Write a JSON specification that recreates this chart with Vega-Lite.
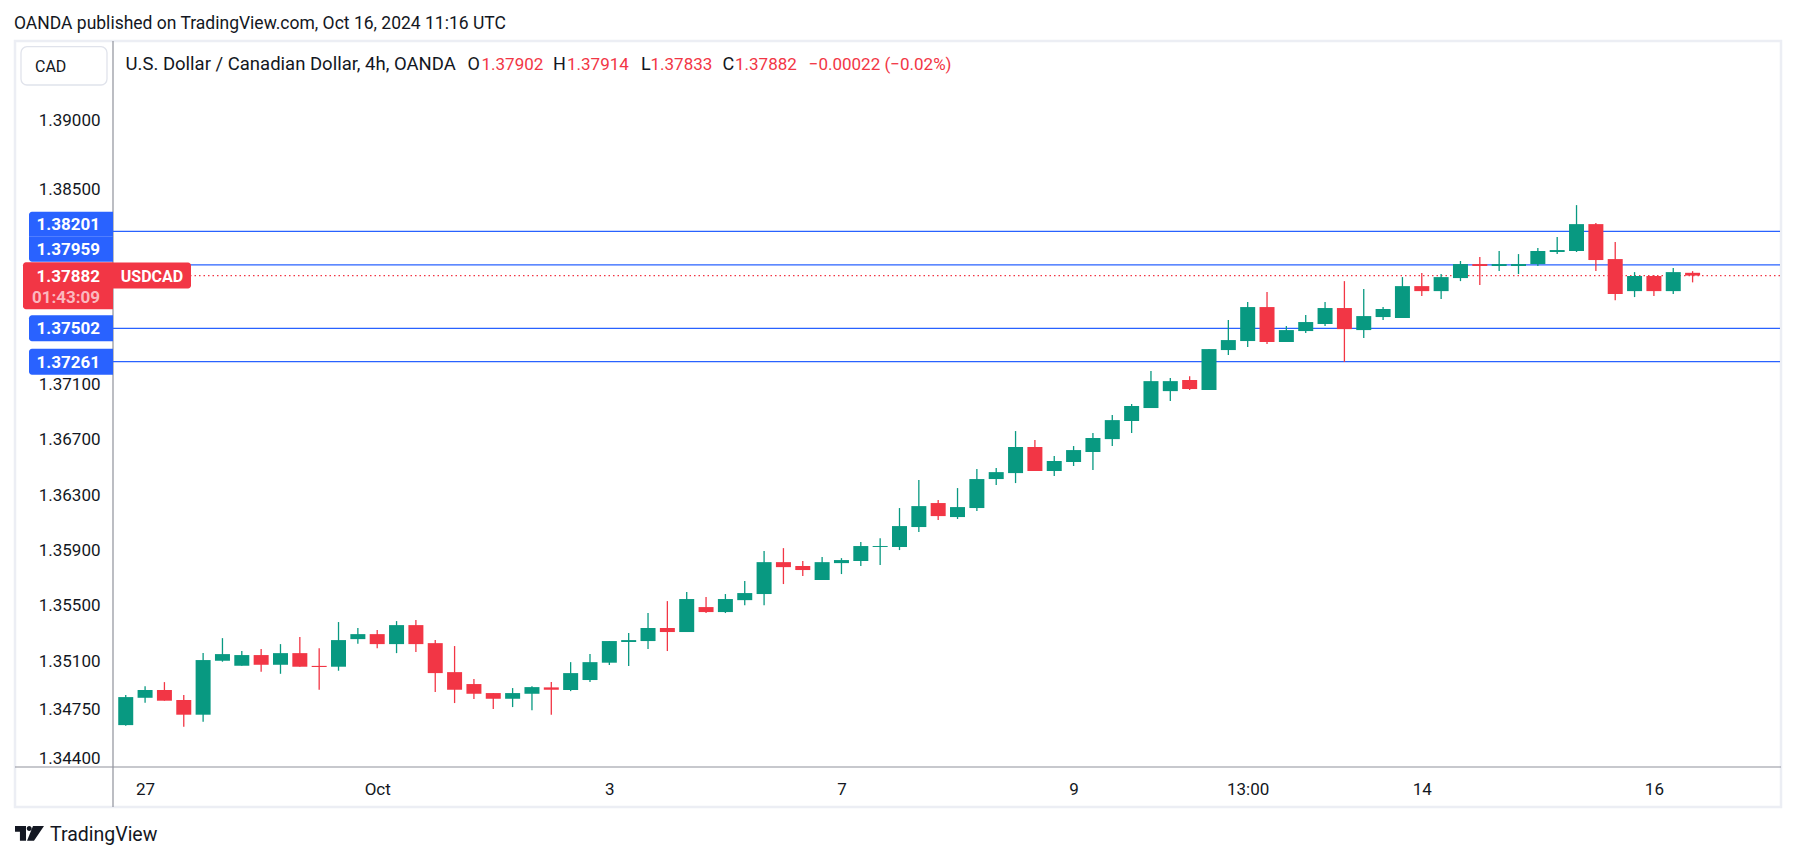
{
  "$schema": "https://vega.github.io/schema/vega-lite/v6.json",
  "width": 1667,
  "height": 725,
  "autosize": {"type": "none"},
  "padding": {"left": 113, "top": 42, "right": 13, "bottom": 94},
  "background": "white",
  "config": {
    "view": {"stroke": null},
    "font": "Roboto",
    "text": {"font": "Roboto"}
  },
  "datasets": {
    "candles": [
      {"i":0,"t":"2024-09-26 21:00","o":1.34641,"h":1.34858,"l":1.34636,"c":1.34843},
      {"i":1,"t":"2024-09-27 01:00","o":1.34838,"h":1.34922,"l":1.34802,"c":1.34894},
      {"i":2,"t":"2024-09-27 05:00","o":1.34894,"h":1.34951,"l":1.34817,"c":1.34817},
      {"i":3,"t":"2024-09-27 09:00","o":1.34822,"h":1.34858,"l":1.34629,"c":1.34716},
      {"i":4,"t":"2024-09-27 13:00","o":1.34716,"h":1.35160,"l":1.34665,"c":1.35110},
      {"i":5,"t":"2024-09-27 17:00","o":1.35105,"h":1.35268,"l":1.35098,"c":1.35153},
      {"i":6,"t":"2024-09-29 21:00","o":1.35069,"h":1.35175,"l":1.35069,"c":1.35146},
      {"i":7,"t":"2024-09-30 01:00","o":1.35146,"h":1.35189,"l":1.35026,"c":1.35076},
      {"i":8,"t":"2024-09-30 05:00","o":1.35076,"h":1.35225,"l":1.35011,"c":1.35160},
      {"i":9,"t":"2024-09-30 09:00","o":1.35160,"h":1.35276,"l":1.35062,"c":1.35062},
      {"i":10,"t":"2024-09-30 13:00","o":1.35068,"h":1.35196,"l":1.34896,"c":1.35060},
      {"i":11,"t":"2024-09-30 17:00","o":1.35062,"h":1.35384,"l":1.35033,"c":1.35254},
      {"i":12,"t":"2024-09-30 21:00","o":1.35261,"h":1.35341,"l":1.35228,"c":1.35297},
      {"i":13,"t":"2024-10-01 01:00","o":1.35297,"h":1.35326,"l":1.35196,"c":1.35225},
      {"i":14,"t":"2024-10-01 05:00","o":1.35225,"h":1.35391,"l":1.35160,"c":1.35362},
      {"i":15,"t":"2024-10-01 09:00","o":1.35362,"h":1.35398,"l":1.35168,"c":1.35225},
      {"i":16,"t":"2024-10-01 13:00","o":1.35232,"h":1.35254,"l":1.34879,"c":1.35016},
      {"i":17,"t":"2024-10-01 17:00","o":1.35023,"h":1.35211,"l":1.34800,"c":1.34896},
      {"i":18,"t":"2024-10-01 21:00","o":1.34937,"h":1.34973,"l":1.34829,"c":1.34867},
      {"i":19,"t":"2024-10-02 01:00","o":1.34872,"h":1.34872,"l":1.34757,"c":1.34831},
      {"i":20,"t":"2024-10-02 05:00","o":1.34831,"h":1.34908,"l":1.34771,"c":1.34872},
      {"i":21,"t":"2024-10-02 09:00","o":1.34867,"h":1.34922,"l":1.34749,"c":1.34915},
      {"i":22,"t":"2024-10-02 13:00","o":1.34913,"h":1.34951,"l":1.34716,"c":1.34896},
      {"i":23,"t":"2024-10-02 17:00","o":1.34894,"h":1.35095,"l":1.34886,"c":1.35016},
      {"i":24,"t":"2024-10-02 21:00","o":1.34966,"h":1.35153,"l":1.34951,"c":1.35095},
      {"i":25,"t":"2024-10-03 01:00","o":1.35091,"h":1.35247,"l":1.35074,"c":1.35247},
      {"i":26,"t":"2024-10-03 05:00","o":1.35240,"h":1.35305,"l":1.35067,"c":1.35254},
      {"i":27,"t":"2024-10-03 09:00","o":1.35247,"h":1.35449,"l":1.35189,"c":1.35341},
      {"i":28,"t":"2024-10-03 13:00","o":1.35341,"h":1.35535,"l":1.35175,"c":1.35312},
      {"i":29,"t":"2024-10-03 17:00","o":1.35312,"h":1.35600,"l":1.35312,"c":1.35550},
      {"i":30,"t":"2024-10-03 21:00","o":1.35492,"h":1.35564,"l":1.35449,"c":1.35456},
      {"i":31,"t":"2024-10-04 01:00","o":1.35456,"h":1.35586,"l":1.35449,"c":1.35550},
      {"i":32,"t":"2024-10-04 05:00","o":1.35542,"h":1.35680,"l":1.35506,"c":1.35593},
      {"i":33,"t":"2024-10-04 09:00","o":1.35586,"h":1.35896,"l":1.35506,"c":1.35816},
      {"i":34,"t":"2024-10-04 13:00","o":1.35816,"h":1.35917,"l":1.35658,"c":1.35780},
      {"i":35,"t":"2024-10-04 17:00","o":1.35788,"h":1.35824,"l":1.35716,"c":1.35759},
      {"i":36,"t":"2024-10-06 21:00","o":1.35687,"h":1.35853,"l":1.35687,"c":1.35816},
      {"i":37,"t":"2024-10-07 01:00","o":1.35809,"h":1.35845,"l":1.35730,"c":1.35831},
      {"i":38,"t":"2024-10-07 05:00","o":1.35824,"h":1.35961,"l":1.35788,"c":1.35932},
      {"i":39,"t":"2024-10-07 09:00","o":1.35925,"h":1.35989,"l":1.35795,"c":1.35932},
      {"i":40,"t":"2024-10-07 13:00","o":1.35925,"h":1.36206,"l":1.35903,"c":1.36076},
      {"i":41,"t":"2024-10-07 17:00","o":1.36069,"h":1.36408,"l":1.36033,"c":1.36220},
      {"i":42,"t":"2024-10-07 21:00","o":1.36242,"h":1.36264,"l":1.36119,"c":1.36148},
      {"i":43,"t":"2024-10-08 01:00","o":1.36141,"h":1.36350,"l":1.36127,"c":1.36213},
      {"i":44,"t":"2024-10-08 05:00","o":1.36206,"h":1.36487,"l":1.36184,"c":1.36415},
      {"i":45,"t":"2024-10-08 09:00","o":1.36415,"h":1.36494,"l":1.36372,"c":1.36465},
      {"i":46,"t":"2024-10-08 13:00","o":1.36458,"h":1.36761,"l":1.36386,"c":1.36646},
      {"i":47,"t":"2024-10-08 17:00","o":1.36646,"h":1.36696,"l":1.36473,"c":1.36473},
      {"i":48,"t":"2024-10-08 21:00","o":1.36473,"h":1.36581,"l":1.36437,"c":1.36545},
      {"i":49,"t":"2024-10-09 01:00","o":1.36538,"h":1.36653,"l":1.36509,"c":1.36624},
      {"i":50,"t":"2024-10-09 05:00","o":1.36610,"h":1.36747,"l":1.36480,"c":1.36711},
      {"i":51,"t":"2024-10-09 09:00","o":1.36703,"h":1.36876,"l":1.36653,"c":1.36840},
      {"i":52,"t":"2024-10-09 13:00","o":1.36833,"h":1.36956,"l":1.36747,"c":1.36941},
      {"i":53,"t":"2024-10-09 17:00","o":1.36927,"h":1.37194,"l":1.36927,"c":1.37121},
      {"i":54,"t":"2024-10-09 21:00","o":1.37049,"h":1.37143,"l":1.36977,"c":1.37121},
      {"i":55,"t":"2024-10-10 01:00","o":1.37129,"h":1.37157,"l":1.37057,"c":1.37064},
      {"i":56,"t":"2024-10-10 05:00","o":1.37057,"h":1.37352,"l":1.37057,"c":1.37352},
      {"i":57,"t":"2024-10-10 09:00","o":1.37345,"h":1.37561,"l":1.37309,"c":1.37417},
      {"i":58,"t":"2024-10-10 13:00","o":1.37410,"h":1.37691,"l":1.37367,"c":1.37655},
      {"i":59,"t":"2024-10-10 17:00","o":1.37655,"h":1.37763,"l":1.37388,"c":1.37403},
      {"i":60,"t":"2024-10-10 21:00","o":1.37403,"h":1.37518,"l":1.37403,"c":1.37489},
      {"i":61,"t":"2024-10-11 01:00","o":1.37482,"h":1.37597,"l":1.37468,"c":1.37547},
      {"i":62,"t":"2024-10-11 05:00","o":1.37533,"h":1.37691,"l":1.37518,"c":1.37648},
      {"i":63,"t":"2024-10-11 09:00","o":1.37648,"h":1.37842,"l":1.37259,"c":1.37496},
      {"i":64,"t":"2024-10-11 13:00","o":1.37489,"h":1.37785,"l":1.37432,"c":1.37590},
      {"i":65,"t":"2024-10-11 17:00","o":1.37583,"h":1.37655,"l":1.37561,"c":1.37641},
      {"i":66,"t":"2024-10-13 21:00","o":1.37576,"h":1.37871,"l":1.37576,"c":1.37806},
      {"i":67,"t":"2024-10-14 01:00","o":1.37806,"h":1.37900,"l":1.37734,"c":1.37770},
      {"i":68,"t":"2024-10-14 05:00","o":1.37770,"h":1.37893,"l":1.37713,"c":1.37871},
      {"i":69,"t":"2024-10-14 09:00","o":1.37864,"h":1.37987,"l":1.37842,"c":1.37965},
      {"i":70,"t":"2024-10-14 13:00","o":1.37965,"h":1.38016,"l":1.37814,"c":1.37951},
      {"i":71,"t":"2024-10-14 17:00","o":1.37951,"h":1.38059,"l":1.37915,"c":1.37965},
      {"i":72,"t":"2024-10-14 21:00","o":1.37951,"h":1.38037,"l":1.37893,"c":1.37965},
      {"i":73,"t":"2024-10-15 01:00","o":1.37965,"h":1.38080,"l":1.37951,"c":1.38059},
      {"i":74,"t":"2024-10-15 05:00","o":1.38052,"h":1.38160,"l":1.38037,"c":1.38066},
      {"i":75,"t":"2024-10-15 09:00","o":1.38059,"h":1.38390,"l":1.38052,"c":1.38253},
      {"i":76,"t":"2024-10-15 13:00","o":1.38253,"h":1.38261,"l":1.37915,"c":1.37994},
      {"i":77,"t":"2024-10-15 17:00","o":1.38001,"h":1.38124,"l":1.37705,"c":1.37749},
      {"i":78,"t":"2024-10-15 21:00","o":1.37770,"h":1.37907,"l":1.37727,"c":1.37879},
      {"i":79,"t":"2024-10-16 01:00","o":1.37879,"h":1.37886,"l":1.37734,"c":1.37770},
      {"i":80,"t":"2024-10-16 05:00","o":1.37770,"h":1.37936,"l":1.37749,"c":1.37907},
      {"i":81,"t":"2024-10-16 09:00","o":1.37902,"h":1.37914,"l":1.37833,"c":1.37882}
    ],
    "levels": [
      {"price": 1.38201},
      {"price": 1.37959},
      {"price": 1.37502},
      {"price": 1.37261}
    ],
    "last": [
      {"price": 1.37882, "countdown": "01:43:09", "symbol": "USDCAD"}
    ]
  },
  "layer": [
    {
      "data": {"values": [{}]},
      "mark": {"type": "rect", "fill": null, "stroke": "#eceef4", "strokeWidth": 2.5, "x": -98, "x2": 1668, "y": -1, "y2": 765},
      "encoding": {}
    },
    {
      "data": {"values": [{}]},
      "mark": {"type": "rule", "stroke": "#8f929b", "strokeWidth": 1.2},
      "encoding": {"x": {"value": 0}, "y": {"value": -1}, "y2": {"value": 765}}
    },
    {
      "data": {"values": [{}]},
      "mark": {"type": "rule", "stroke": "#8f929b", "strokeWidth": 1.2},
      "encoding": {"x": {"value": -98}, "x2": {"value": 1668}, "y": {"value": 725}}
    },
    {
      "data": {"name": "levels"},
      "mark": {"type": "rule", "stroke": "#2962FF", "strokeWidth": 1.3},
      "encoding": {
        "y": {"field": "price", "type": "quantitative", "title": null, "scale": {"domain": [1.34339, 1.39566], "nice": false, "zero": false}}
      }
    },
    {
      "data": {"name": "last"},
      "mark": {"type": "rule", "stroke": "#F23645", "strokeWidth": 1.3, "strokeDash": [1.5, 3]},
      "encoding": {
        "y": {"field": "price", "type": "quantitative", "title": null, "scale": {"domain": [1.34339, 1.39566], "nice": false, "zero": false}}
      }
    },
    {
      "data": {"name": "candles"},
      "mark": {"type": "rule", "strokeWidth": 1.3},
      "encoding": {
        "x": {"field": "i", "type": "quantitative", "title": null, "scale": {"domain": [-0.4, 85.26], "nice": false, "zero": false},
          "axis": {"values": [1, 13, 25, 37, 49, 58, 67, 79], "title": null, "domain": false, "ticks": false, "tickSize": 0, "grid": false,
            "labelExpr": "datum.value == 1 ? '27' : datum.value == 13 ? 'Oct' : datum.value == 25 ? '3' : datum.value == 37 ? '7' : datum.value == 49 ? '9' : datum.value == 58 ? '13:00' : datum.value == 67 ? '14' : '16'",
            "labelFont": "Roboto", "labelFontSize": 17, "labelColor": "#131722", "labelPadding": 27, "labelBaseline": "alphabetic", "labelAlign": "center", "labelFlush": false, "labelOverlap": false}},
        "y": {"field": "l", "type": "quantitative", "title": null, "scale": {"domain": [1.34339, 1.39566], "nice": false, "zero": false},
          "axis": {"values": [1.344, 1.3475, 1.351, 1.355, 1.359, 1.363, 1.367, 1.371, 1.385, 1.39], "format": ".5f", "title": null, "domain": false, "ticks": false, "tickSize": 0, "grid": false,
            "labelFont": "Roboto", "labelFontSize": 17, "labelColor": "#131722", "labelPadding": 13, "labelBaseline": "middle", "labelAlign": "right", "labelFlush": false, "labelOverlap": false}},
        "y2": {"field": "h"},
        "color": {"condition": {"test": "datum.c < datum.o", "value": "#F23645"}, "value": "#089981"}
      }
    },
    {
      "data": {"name": "candles"},
      "mark": {"type": "bar", "width": 15},
      "encoding": {
        "x": {"field": "i", "type": "quantitative", "title": null, "scale": {"domain": [-0.4, 85.26], "nice": false, "zero": false}},
        "y": {"field": "o", "type": "quantitative", "title": null, "scale": {"domain": [1.34339, 1.39566], "nice": false, "zero": false}},
        "y2": {"field": "c"},
        "color": {"condition": {"test": "datum.c < datum.o", "value": "#F23645"}, "value": "#089981"}
      }
    },
    {
      "data": {"name": "levels"},
      "transform": [{"filter": "datum.price == 1.38201"}],
      "mark": {"type": "rect", "fill": "#2962FF", "yOffset": -19.5, "y2Offset": 5.5, "cornerRadiusTopLeft": 3},
      "encoding": {
        "x": {"value": -84}, "x2": {"value": 0},
        "y": {"field": "price", "type": "quantitative", "title": null, "scale": {"domain": [1.34339, 1.39566], "nice": false, "zero": false}},
        "y2": {"field": "price"}
      }
    },
    {
      "data": {"name": "levels"},
      "transform": [{"filter": "datum.price == 1.37959"}],
      "mark": {"type": "rect", "fill": "#2962FF", "yOffset": -28.2, "y2Offset": -3.2, "cornerRadiusBottomLeft": 3},
      "encoding": {
        "x": {"value": -84}, "x2": {"value": 0},
        "y": {"field": "price", "type": "quantitative", "title": null, "scale": {"domain": [1.34339, 1.39566], "nice": false, "zero": false}},
        "y2": {"field": "price"}
      }
    },
    {
      "data": {"name": "levels"},
      "transform": [{"filter": "datum.price < 1.376"}],
      "mark": {"type": "rect", "fill": "#2962FF", "yOffset": -13, "y2Offset": 13, "cornerRadiusTopLeft": 3, "cornerRadiusBottomLeft": 3},
      "encoding": {
        "x": {"value": -84}, "x2": {"value": 0},
        "y": {"field": "price", "type": "quantitative", "title": null, "scale": {"domain": [1.34339, 1.39566], "nice": false, "zero": false}},
        "y2": {"field": "price"}
      }
    },
    {
      "data": {"name": "levels"},
      "transform": [{"filter": "datum.price == 1.38201"}],
      "mark": {"type": "text", "align": "right", "baseline": "middle", "dy": 1, "yOffset": -7, "font": "Roboto", "fontWeight": "bold", "fontSize": 17, "color": "white"},
      "encoding": {
        "x": {"value": -13},
        "y": {"field": "price", "type": "quantitative", "title": null, "scale": {"domain": [1.34339, 1.39566], "nice": false, "zero": false}},
        "text": {"field": "price", "type": "quantitative", "format": ".5f"}
      }
    },
    {
      "data": {"name": "levels"},
      "transform": [{"filter": "datum.price == 1.37959"}],
      "mark": {"type": "text", "align": "right", "baseline": "middle", "dy": 1, "yOffset": -15.7, "font": "Roboto", "fontWeight": "bold", "fontSize": 17, "color": "white"},
      "encoding": {
        "x": {"value": -13},
        "y": {"field": "price", "type": "quantitative", "title": null, "scale": {"domain": [1.34339, 1.39566], "nice": false, "zero": false}},
        "text": {"field": "price", "type": "quantitative", "format": ".5f"}
      }
    },
    {
      "data": {"name": "levels"},
      "transform": [{"filter": "datum.price < 1.376"}],
      "mark": {"type": "text", "align": "right", "baseline": "middle", "dy": 1, "font": "Roboto", "fontWeight": "bold", "fontSize": 17, "color": "white"},
      "encoding": {
        "x": {"value": -13},
        "y": {"field": "price", "type": "quantitative", "title": null, "scale": {"domain": [1.34339, 1.39566], "nice": false, "zero": false}},
        "text": {"field": "price", "type": "quantitative", "format": ".5f"}
      }
    },
    {
      "data": {"name": "last"},
      "mark": {"type": "rect", "fill": "#F23645", "yOffset": -13.3, "y2Offset": 33.7, "cornerRadiusTopLeft": 3, "cornerRadiusBottomLeft": 3},
      "encoding": {
        "x": {"value": -90}, "x2": {"value": 0},
        "y": {"field": "price", "type": "quantitative", "title": null, "scale": {"domain": [1.34339, 1.39566], "nice": false, "zero": false}},
        "y2": {"field": "price"}
      }
    },
    {
      "data": {"name": "last"},
      "mark": {"type": "rect", "fill": "#F23645", "yOffset": -13, "y2Offset": 13, "cornerRadiusTopRight": 3, "cornerRadiusBottomRight": 3},
      "encoding": {
        "x": {"value": 0}, "x2": {"value": 78},
        "y": {"field": "price", "type": "quantitative", "title": null, "scale": {"domain": [1.34339, 1.39566], "nice": false, "zero": false}},
        "y2": {"field": "price"}
      }
    },
    {
      "data": {"name": "last"},
      "mark": {"type": "text", "align": "right", "baseline": "middle", "dy": 1, "font": "Roboto", "fontWeight": "bold", "fontSize": 17, "color": "white"},
      "encoding": {
        "x": {"value": -13},
        "y": {"field": "price", "type": "quantitative", "title": null, "scale": {"domain": [1.34339, 1.39566], "nice": false, "zero": false}},
        "text": {"field": "price", "type": "quantitative", "format": ".5f"}
      }
    },
    {
      "data": {"name": "last"},
      "mark": {"type": "text", "align": "right", "baseline": "middle", "dy": 1, "yOffset": 21, "font": "Roboto", "fontWeight": "bold", "fontSize": 17, "color": "#fbb8bf"},
      "encoding": {
        "x": {"value": -13},
        "y": {"field": "price", "type": "quantitative", "title": null, "scale": {"domain": [1.34339, 1.39566], "nice": false, "zero": false}},
        "text": {"field": "countdown"}
      }
    },
    {
      "data": {"name": "last"},
      "mark": {"type": "text", "align": "center", "baseline": "middle", "dy": 1, "font": "Roboto", "fontWeight": "bold", "fontSize": 16, "color": "white"},
      "encoding": {
        "x": {"value": 39},
        "y": {"field": "price", "type": "quantitative", "title": null, "scale": {"domain": [1.34339, 1.39566], "nice": false, "zero": false}},
        "text": {"field": "symbol"}
      }
    },
    {
      "data": {"values": [{}]},
      "mark": {"type": "rect", "fill": "white", "stroke": "#e0e3eb", "strokeWidth": 1.3, "cornerRadius": 6, "x": -92, "x2": -6, "y": 4.7, "y2": 43},
      "encoding": {}
    },
    {
      "data": {"values": [{}]},
      "mark": {"type": "text", "text": "CAD", "x": -78, "y": 29.7, "align": "left", "baseline": "alphabetic", "font": "Roboto", "fontSize": 16, "color": "#131722"}
    },
    {
      "data": {"values": [{}]},
      "mark": {"type": "text", "text": "OANDA published on TradingView.com, Oct 16, 2024 11:16 UTC", "x": -99, "y": -13, "align": "left", "baseline": "alphabetic", "font": "Roboto", "fontSize": 17.5, "color": "#131722"}
    },
    {
      "data": {"values": [{}]},
      "mark": {"type": "text", "text": "U.S. Dollar / Canadian Dollar, 4h, OANDA", "x": 12.6, "y": 28, "align": "left", "baseline": "alphabetic", "font": "Roboto", "fontSize": 18.5, "color": "#131722"}
    },
    {
      "data": {"values": [{}]},
      "mark": {"type": "text", "text": "O", "x": 354.5, "y": 28, "align": "left", "baseline": "alphabetic", "font": "Roboto", "fontSize": 18, "color": "#131722"}
    },
    {
      "data": {"values": [{}]},
      "mark": {"type": "text", "text": "1.37902", "x": 368.5, "y": 28, "align": "left", "baseline": "alphabetic", "font": "Roboto", "fontSize": 17, "color": "#F23645"}
    },
    {
      "data": {"values": [{}]},
      "mark": {"type": "text", "text": "H", "x": 440, "y": 28, "align": "left", "baseline": "alphabetic", "font": "Roboto", "fontSize": 18, "color": "#131722"}
    },
    {
      "data": {"values": [{}]},
      "mark": {"type": "text", "text": "1.37914", "x": 454, "y": 28, "align": "left", "baseline": "alphabetic", "font": "Roboto", "fontSize": 17, "color": "#F23645"}
    },
    {
      "data": {"values": [{}]},
      "mark": {"type": "text", "text": "L", "x": 528, "y": 28, "align": "left", "baseline": "alphabetic", "font": "Roboto", "fontSize": 18, "color": "#131722"}
    },
    {
      "data": {"values": [{}]},
      "mark": {"type": "text", "text": "1.37833", "x": 537.5, "y": 28, "align": "left", "baseline": "alphabetic", "font": "Roboto", "fontSize": 17, "color": "#F23645"}
    },
    {
      "data": {"values": [{}]},
      "mark": {"type": "text", "text": "C", "x": 609.6, "y": 28, "align": "left", "baseline": "alphabetic", "font": "Roboto", "fontSize": 18, "color": "#131722"}
    },
    {
      "data": {"values": [{}]},
      "mark": {"type": "text", "text": "1.37882", "x": 622, "y": 28, "align": "left", "baseline": "alphabetic", "font": "Roboto", "fontSize": 17, "color": "#F23645"}
    },
    {
      "data": {"values": [{}]},
      "mark": {"type": "text", "text": "−0.00022 (−0.02%)", "x": 695.7, "y": 28, "align": "left", "baseline": "alphabetic", "font": "Roboto", "fontSize": 17, "color": "#F23645"}
    },
    {
      "data": {"values": [{}]},
      "mark": {"type": "point", "filled": true, "fill": "#131722", "stroke": null, "opacity": 1, "size": 841, "x": -83.5, "y": 791.4,
        "shape": "M-1,-0.51H-0.24V0.5H-0.66V-0.12H-1Z M0.24,-0.51H1L0.31,0.5H-0.17Z M-0.19,-0.34A0.17,0.17 0 1,0 0.15,-0.34A0.17,0.17 0 1,0 -0.19,-0.34Z"},
      "encoding": {}
    },
    {
      "data": {"values": [{}]},
      "mark": {"type": "text", "text": "TradingView", "x": -63, "y": 798.7, "align": "left", "baseline": "alphabetic", "font": "Roboto", "fontSize": 19.5, "color": "#131722"}
    }
  ]
}
